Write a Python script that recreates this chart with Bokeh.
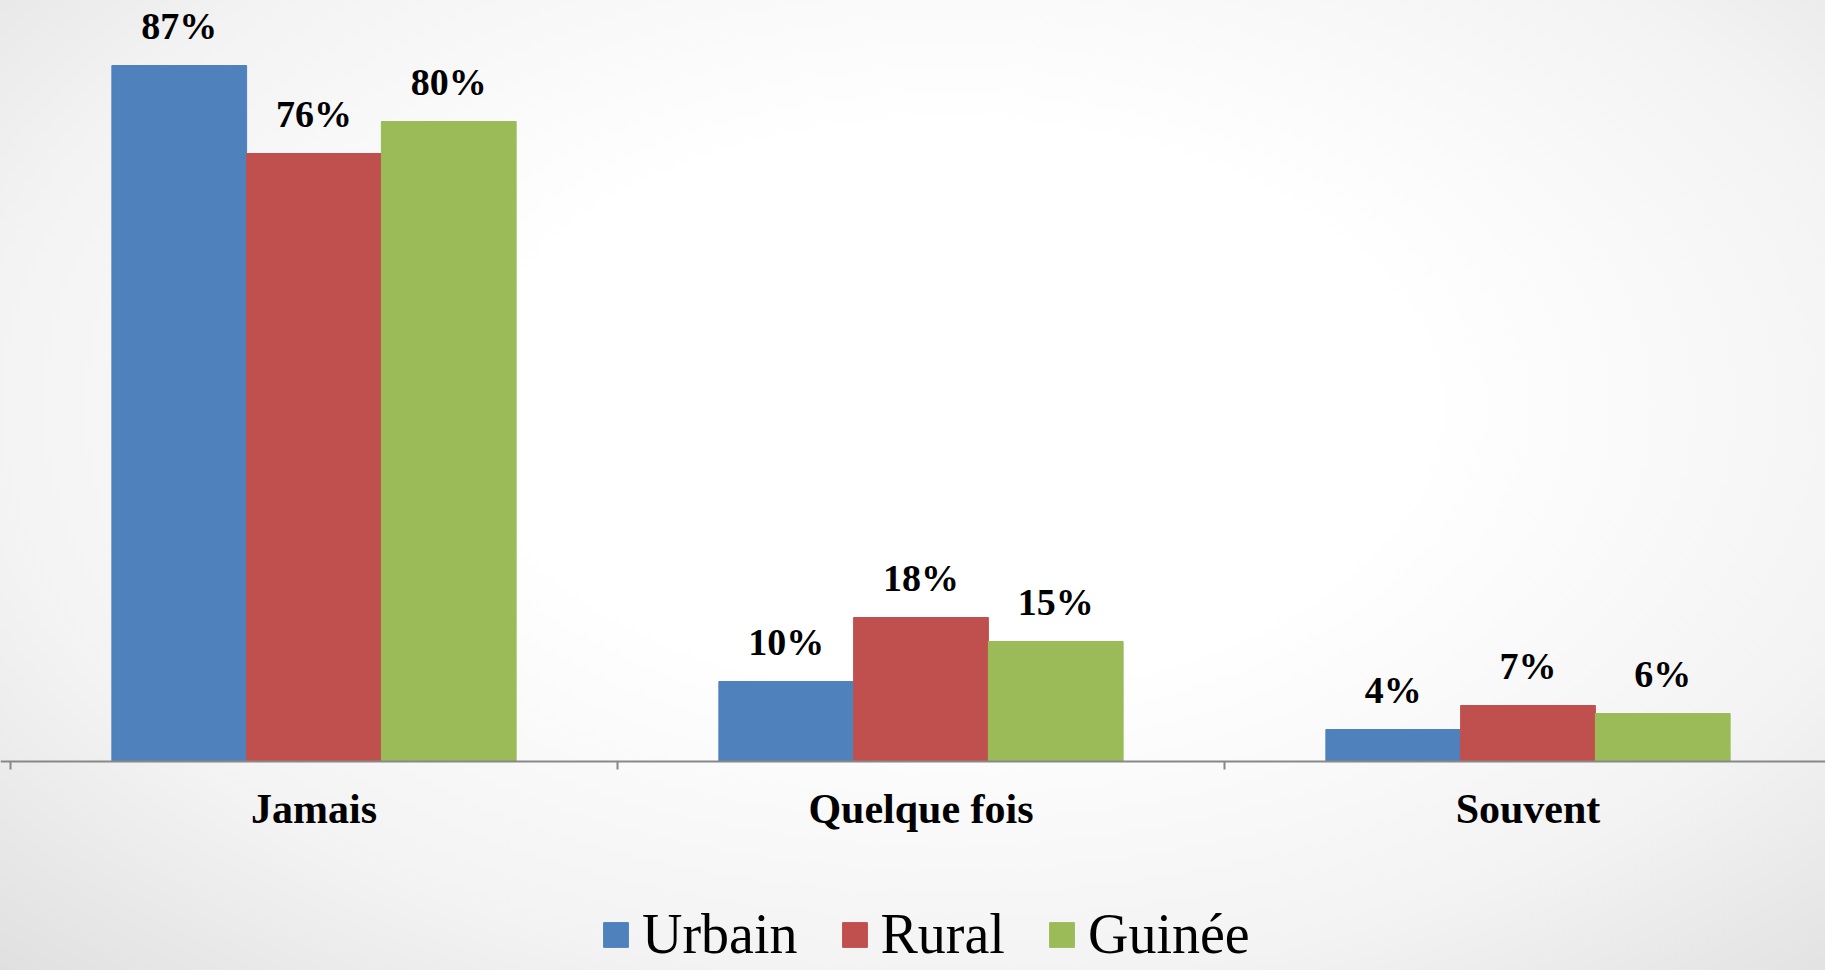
from bokeh.plotting import figure
from bokeh.models import ColumnDataSource, Range1d, FixedTicker, LabelSet, Legend, LegendItem
from bokeh.embed import file_html
from bokeh.resources import INLINE

categories = ["Jamais", "Quelque fois", "Souvent"]
series_names = ["Urbain", "Rural", "Guinée"]
urbain = [87, 10, 4]
rural = [76, 18, 7]
guinee = [80, 15, 6]
colors = ["#4F81BD", "#C0504D", "#9BBB59"]

W, H = 1825, 970
AXIS_Y = 761          # screen row of the category axis
LEFT = 10             # screen column of the first category boundary
PX_PER_CAT = 607
PX_PER_PCT = 8.0

p = figure(width=W, height=H, output_backend="svg", toolbar_location=None, title=None,
           x_range=Range1d(-LEFT / PX_PER_CAT, (W - LEFT) / PX_PER_CAT),
           y_range=Range1d(-(H - AXIS_Y) / PX_PER_PCT, AXIS_Y / PX_PER_PCT),
           min_border_left=0, min_border_right=0, min_border_top=0, min_border_bottom=0)

p.background_fill_alpha = 0
p.border_fill_alpha = 0
p.styles = {"background": "radial-gradient(ellipse farthest-corner at 52% 42%, #ffffff 0%, #ffffff 35%, #f3f3f3 72%, #e0e0e0 100%)"}
p.outline_line_color = None
p.grid.visible = False
p.yaxis.visible = False

bar_w = 0.222
offsets = [-bar_w, 0.0, bar_w]
renderers = []
for vals, off, col, name in zip([urbain, rural, guinee], offsets, colors, series_names):
    xs = [i + 0.5 + off for i in range(len(categories))]
    src = ColumnDataSource(dict(x=xs, top=vals, label=[f"{v}%" for v in vals]))
    r = p.vbar(x="x", top="top", bottom=0, width=bar_w, source=src,
               fill_color=col, line_color=col, line_width=1)
    renderers.append(r)
    p.add_layout(LabelSet(x="x", y="top", text="label", source=src,
                          text_align="center", text_baseline="alphabetic", y_offset=27,
                          text_font="Liberation Serif", text_font_style="bold",
                          text_font_size="38px", text_color="#000000"))

ax = p.xaxis[0]
ax.fixed_location = 0
ax.ticker = FixedTicker(ticks=[i + 0.5 for i in range(len(categories))],
                        minor_ticks=list(range(len(categories) + 1)))
ax.major_label_overrides = {i + 0.5: c for i, c in enumerate(categories)}
ax.major_tick_out = 0
ax.major_tick_in = 0
ax.minor_tick_out = 8
ax.minor_tick_in = 0
ax.minor_tick_line_color = "#888888"
ax.minor_tick_line_width = 2
ax.axis_line_color = "#888888"
ax.axis_line_width = 2
ax.major_label_standoff = 16
ax.major_label_text_font = "Liberation Serif"
ax.major_label_text_font_style = "bold"
ax.major_label_text_font_size = "42px"
ax.major_label_text_color = "#000000"

legend = Legend(items=[LegendItem(label=n, renderers=[r]) for n, r in zip(series_names, renderers)],
                orientation="horizontal", location=(600, 4), padding=0, margin=0,
                spacing=41, glyph_width=31, glyph_height=31, label_standoff=11,
                label_text_font="Liberation Serif", label_text_font_size="56px",
                label_text_color="#000000",
                background_fill_alpha=0, border_line_alpha=0)
p.add_layout(legend, "center")

open("out.html", "w").write(file_html(p, INLINE))
